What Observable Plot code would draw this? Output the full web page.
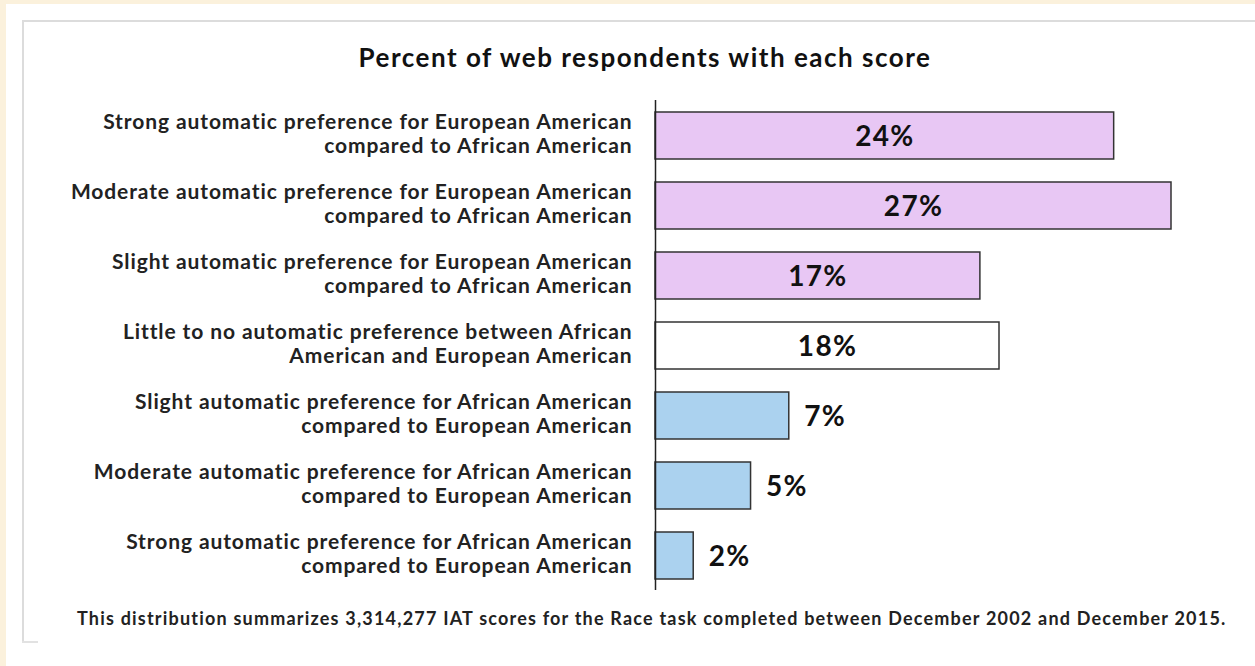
<!DOCTYPE html>
<html>
<head>
<meta charset="utf-8">
<script src="https://cdn.jsdelivr.net/npm/d3@7"></script>
<script src="https://cdn.jsdelivr.net/npm/@observablehq/plot@0.6"></script>
<style>
  html, body { margin: 0; padding: 0; }
  body { width: 1255px; height: 666px; background: #fbf1dc; position: relative; overflow: hidden; font-family: Lato, "Open Sans", sans-serif; }
  #panel { position: absolute; left: 6px; top: 4px; right: 0; bottom: 0; background: #ffffff; }
  #frame { position: absolute; left: 22px; top: 20px; right: 0; height: 621px; border-left: 2px solid #dcdcdc; border-top: 2px solid #dcdcdc; }
  #frame-foot { position: absolute; left: 22px; top: 641px; width: 16px; border-top: 2px solid #e2e2e2; }
  #title { position: absolute; left: 0; width: 1290px; top: 41px; text-align: center; font-weight: 700; font-size: 26px; letter-spacing: 1.5px; color: #111; }
  #chart { position: absolute; left: 0; top: 0; }
  #caption { position: absolute; left: 77px; top: 607px; font-weight: 700; font-size: 18px; letter-spacing: 1.2px; color: #222; white-space: nowrap; }
  #chart svg g[aria-label="y-axis tick label"] text { letter-spacing: 0.9px; }
  #chart svg g[aria-label="text"] text { letter-spacing: 1.3px; }
</style>
</head>
<body>
<div id="panel"></div>
<div id="frame"></div>
<div id="frame-foot"></div>
<div id="title">Percent of web respondents with each score</div>
<div id="chart"></div>
<div id="caption">This distribution summarizes 3,314,277 IAT scores for the Race task completed between December 2002 and December 2015.</div>
<script>
const categories = [
  "Strong automatic preference for European American\ncompared to African American",
  "Moderate automatic preference for European American\ncompared to African American",
  "Slight automatic preference for European American\ncompared to African American",
  "Little to no automatic preference between African\nAmerican and European American",
  "Slight automatic preference for African American\ncompared to European American",
  "Moderate automatic preference for African American\ncompared to European American",
  "Strong automatic preference for African American\ncompared to European American"
];
const values = [24, 27, 17, 18, 7, 5, 2];
const groups = ["European", "European", "European", "Neutral", "African", "African", "African"];
const groupColors = {European: "#e8c7f4", Neutral: "#ffffff", African: "#abd2ef"};
const labelInside = {European: true, Neutral: true, African: false};

const data = categories.map((c, i) => ({category: c, value: values[i], group: groups[i]}));
const inside = data.filter(d => labelInside[d.group]);
const outside = data.filter(d => !labelInside[d.group]);

const chart = Plot.plot({
  width: 1255,
  height: 600,
  marginTop: 100,
  marginBottom: 10,
  marginLeft: 655,
  marginRight: 84,
  style: {fontFamily: "Lato, 'Open Sans', sans-serif", fontWeight: "bold", background: "transparent", color: "#222"},
  x: {domain: [0, 27], axis: null},
  y: {domain: categories, paddingInner: 0.33, paddingOuter: 0.165, label: null},
  marks: [
    Plot.barX(data, {x: "value", y: "category", fill: d => groupColors[d.group], stroke: "#333", strokeWidth: 1.5}),
    Plot.ruleX([0], {stroke: "#222", strokeWidth: 1.5}),
    Plot.axisY({tickSize: 0, tickPadding: 23, fontSize: 21, lineHeight: 1.14, dy: -3, fill: "#222", label: null}),
    Plot.text(inside, {x: d => d.value / 2, y: "category", text: d => d.value + "%", fontSize: 28, dy: 1, fontWeight: "bold", fill: "#111"}),
    Plot.text(outside, {x: "value", y: "category", text: d => d.value + "%", dx: 15, dy: 1, textAnchor: "start", fontSize: 28, fontWeight: "bold", fill: "#111"})
  ]
});
document.getElementById("chart").appendChild(chart);
</script>
</body>
</html>
